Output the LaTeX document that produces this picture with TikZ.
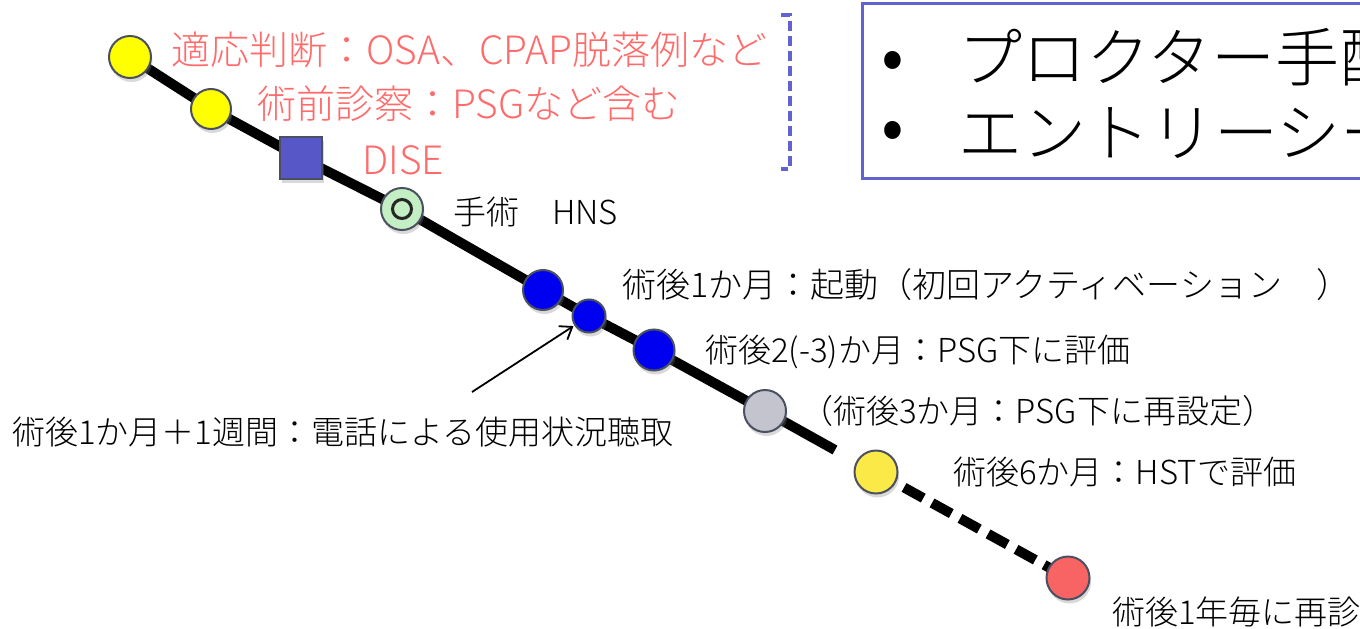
\documentclass[tikz,border=0pt]{standalone}
\usepackage{fontspec}
\setmainfont{Noto Sans CJK JP Light}
\usetikzlibrary{shadows,arrows.meta}
\definecolor{pinktxt}{HTML}{FF6B6B}
\definecolor{edgegray}{HTML}{4A5060}
\definecolor{yel}{HTML}{FFFF00}
\definecolor{yel2}{HTML}{FBE947}
\definecolor{bluedot}{HTML}{0000F0}
\definecolor{graydot}{HTML}{C4C4CE}
\definecolor{reddot}{HTML}{F86464}
\definecolor{greendot}{HTML}{C4EEC4}
\definecolor{sqblue}{HTML}{5757C8}
\definecolor{boxblue}{HTML}{6262D2}
\tikzset{
  dot/.style={circle, draw=edgegray, line width=2pt, inner sep=0pt, minimum size=#1,
    drop shadow={opacity=0.3, shadow xshift=1.5pt, shadow yshift=-4pt}},
  dot/.default=42pt,
  sq/.style={rectangle, draw=edgegray, line width=2pt, fill=sqblue, minimum width=42pt, minimum height=42pt, inner sep=0pt,
    drop shadow={opacity=0.3, shadow xshift=1.5pt, shadow yshift=-4pt}},
  lbl/.style={anchor=west, inner sep=0pt, font=\fontsize{33}{40}\selectfont},
  pinklbl/.style={anchor=west, inner sep=0pt, text=pinktxt, font=\fontsize{39}{44}\selectfont},
  bigtxt/.style={anchor=west, inner sep=0pt, font=\fontsize{64}{70}\selectfont},
  mainline/.style={line width=10pt, black, line join=round},
  dashline/.style={line width=10pt, black, dash pattern=on 22pt off 10pt},
  bracketline/.style={boxblue, line width=4pt, dash pattern=on 10pt off 5pt},
}
\begin{document}
\begin{tikzpicture}[x=1pt,y=-1pt]
\useasboundingbox (0,0) rectangle (1360,629);
\clip (0,0) rectangle (1360,629);
% coordinates
\coordinate (lineend) at (835,450);
\coordinate (arrtail) at (472,392);
% node positions
\coordinate (py1) at (130,57);
\coordinate (py2) at (211,109);
\coordinate (pdise) at (301,158);
\coordinate (phns) at (402,209);
\coordinate (pb1) at (543,290);
\coordinate (pbs) at (589,316);
\coordinate (pb2) at (654,350);
\coordinate (pg3) at (765,411);
\coordinate (py6) at (876,472);
\coordinate (pr12) at (1068,578);
% lines
\draw[mainline] (py1) -- (py2) -- (pdise) -- (phns) -- (pb1) -- (pbs) -- (pb2) -- (pg3) -- (lineend);
\draw[dashline] (py6) -- (pr12);
% dots
\node[dot=42pt, fill=yel] (y1) at (py1) {};
\node[dot=40pt, fill=yel] (y2) at (py2) {};
\node[sq] (dise) at (pdise) {};
\node[dot=42pt, fill=greendot] (hns) at (phns) {};
\node[circle, draw=black!85, line width=3pt, fill=greendot, minimum size=19pt, inner sep=0pt] (hnsin) at (hns) {};
\node[dot=40pt, fill=bluedot] (b1) at (pb1) {};
\node[dot=33pt, fill=bluedot] (bsmall) at (pbs) {};
\node[dot=41pt, fill=bluedot] (b2) at (pb2) {};
\node[dot=42pt, fill=graydot] (g3) at (pg3) {};
\node[dot=43pt, fill=yel2] (y6) at (py6) {};
\node[dot=43pt, fill=reddot] (r12) at (pr12) {};
% arrow
\draw[line width=1.8pt, -{Straight Barb[length=11pt, width=16pt, line width=1.8pt]}, shorten >=1pt] (arrtail) -- (bsmall);
% labels
\node[pinklbl] (t0) at (171,50) {適応判断：OSA、CPAP脱落例など};
\node[pinklbl] (t1) at (257,104) {術前診察：PSGなど含む};
\node[pinklbl] (tdise) at (362,160) {DISE};
\node[lbl] (thns) at (453,212) {手術　HNS};
\node[lbl, font=\fontsize{34}{40}\selectfont] (ta) at (622,285) {術後1か月：起動（初回アクティベーション　）};
\node[lbl] (tb) at (705,352) {術後2(-3)か月：PSG下に評価};
\node[lbl] (tc) at (800,411) {（術後3か月：PSG下に再設定）};
\node[lbl] (td) at (953,472) {術後6か月：HSTで評価};
\node[lbl] (te) at (1112,612) {術後1年毎に再診};
\node[lbl] (tphone) at (12,432) {術後1か月＋1週間：電話による使用状況聴取};
% bracket
\draw[bracketline] (781,15) -- (790,15) -- (790,169) -- (781,169);
% box
\draw[boxblue, line width=3pt] (862,3) rectangle (1420,178);
\node[anchor=center, inner sep=0pt, font=\fontsize{72}{72}\selectfont] (bul1) at (893,66) {•};
\node[anchor=center, inner sep=0pt, font=\fontsize{72}{72}\selectfont] (bul2) at (893,136) {•};
\node[bigtxt] (bx1) at (958,57) {プロクター手配};
\node[bigtxt] (bx2) at (958,133) {エントリーシート};
\end{tikzpicture}
\end{document}
